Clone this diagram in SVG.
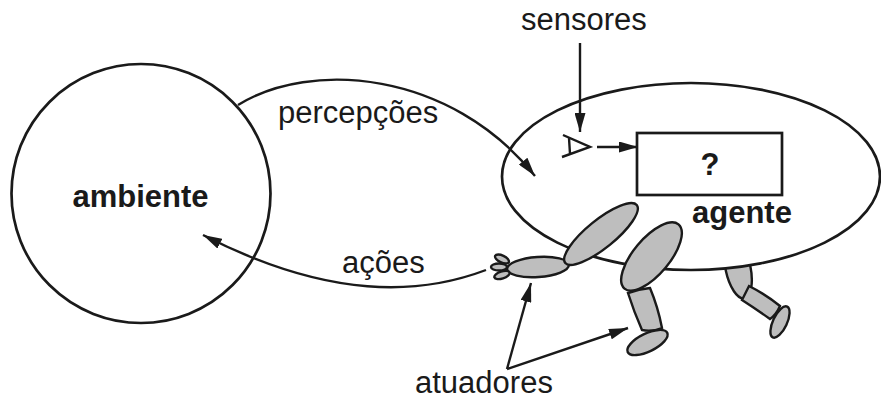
<svg xmlns="http://www.w3.org/2000/svg" width="881" height="400" viewBox="0 0 881 400">
  <style>
    .outline { fill: #ffffff; stroke: #1a1a1a; stroke-width: 2.7; }
    .line { fill: none; stroke: #1a1a1a; stroke-width: 2.4; }
    .limb { fill: #bebebe; stroke: #1a1a1a; stroke-width: 2.4; }
    .label { font-family: "Liberation Sans", Arial, sans-serif; font-size: 31px; fill: #1a1a1a; }
    .bold { font-weight: bold; }
  </style>
  <defs>
    <marker id="head" markerUnits="userSpaceOnUse" markerWidth="19" markerHeight="11" refX="19" refY="5.5" orient="auto">
      <path d="M0,0 L19,5.5 L0,11 z" fill="#1a1a1a"/>
    </marker>
  </defs>

  <!-- environment -->
  <g id="ambiente">
    <circle class="outline" cx="141" cy="193.5" r="129.5"/>
    <text class="label bold" x="140.5" y="207" text-anchor="middle">ambiente</text>
  </g>

  <!-- agent: back leg sits behind the body -->
  <g id="agente">
    <g id="back-leg">
      <ellipse class="limb" cx="738" cy="268" rx="12.5" ry="31" transform="rotate(-12 738 268)"/>
      <path class="limb" d="M749,286 Q765,294 780,306 Q776,315 770,319 Q756,309 742,300 Z"/>
      <ellipse class="limb" cx="780" cy="322" rx="17" ry="7" transform="rotate(-65 780 322)"/>
    </g>
    <ellipse class="outline" cx="691" cy="176.5" rx="189" ry="93.5"/>
    <rect class="outline" x="637" y="133" width="145" height="62" stroke-width="2.4"/>
    <text class="label bold" x="710" y="175" text-anchor="middle">?</text>
    <text class="label bold" x="692" y="223">agente</text>
    <!-- sensor (eye) -->
    <path class="line" d="M563,135 L590,147 L562,157 M569,138 L570,154"/>
    <!-- arm -->
    <g id="arm">
      <ellipse class="limb" cx="538" cy="267" rx="31" ry="10" transform="rotate(-4 538 267)"/>
      <ellipse class="limb" cx="502" cy="259" rx="7.5" ry="3.5" transform="rotate(25 502 259)"/>
      <ellipse class="limb" cx="499" cy="267" rx="8" ry="3.5"/>
      <ellipse class="limb" cx="502" cy="275" rx="8" ry="3.5" transform="rotate(-18 502 275)"/>
      <ellipse class="limb" cx="601" cy="234" rx="46" ry="14" transform="rotate(-39 601 234)"/>
    </g>
    <!-- front leg -->
    <g id="front-leg">
      <path class="limb" d="M628,293 Q639,289 650,288 Q658,307 662,328 Q652,332 642,330 Q634,312 628,293 Z"/>
      <ellipse class="limb" cx="651.5" cy="256.5" rx="42" ry="18" transform="rotate(-50 651.5 256.5)"/>
      <ellipse class="limb" cx="647.5" cy="342.5" rx="22" ry="9" transform="rotate(-26 647.5 342.5)"/>
    </g>
  </g>

  <!-- connectors -->
  <g id="connectors">
    <path class="line" d="M238,105 C310,60 450,70 535,176" marker-end="url(#head)"/>
    <path class="line" d="M486,270 C420,295 330,300 203,235" marker-end="url(#head)"/>
    <path class="line" d="M580,43 L580,132" marker-end="url(#head)"/>
    <path class="line" d="M597,147 L638,147" marker-end="url(#head)"/>
    <path class="line" d="M507,369 L531,283" marker-end="url(#head)"/>
    <path class="line" d="M507,369 L628,328" marker-end="url(#head)"/>
  </g>

  <!-- labels -->
  <g id="labels">
    <text class="label" x="521" y="30">sensores</text>
    <text class="label" x="278" y="123">percepções</text>
    <text class="label" x="342" y="273">ações</text>
    <text class="label" x="415" y="393">atuadores</text>
  </g>
</svg>
